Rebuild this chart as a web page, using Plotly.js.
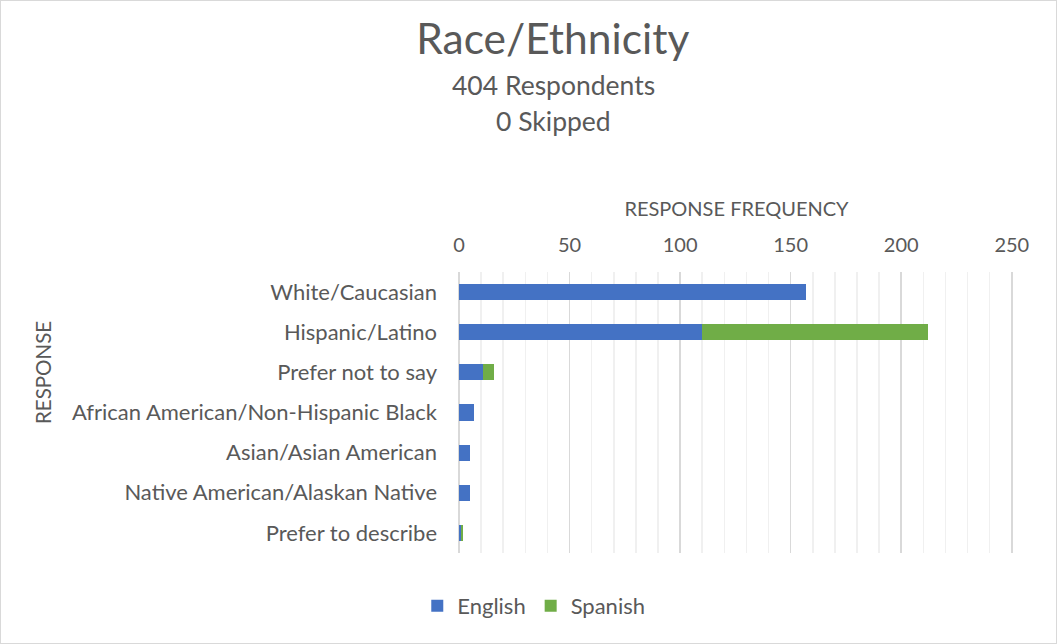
<!DOCTYPE html>
<html>
<head>
<meta charset="utf-8">
<script src="https://cdn.plot.ly/plotly-3.0.1.min.js"></script>
<style>
  html, body { margin: 0; padding: 0; background: #fff; }
  #chart { width: 1057px; height: 644px; box-sizing: border-box; border: 1px solid #d9d9d9; }
</style>
</head>
<body>
<div id="chart"></div>
<script>
// categories, top to bottom
var responses = [
  "White/Caucasian",
  "Hispanic/Latino",
  "Prefer not to say",
  "African American/Non-Hispanic Black",
  "Asian/Asian American",
  "Native American/Alaskan Native",
  "Prefer to describe"
];
var english = [157, 110, 11, 7, 5, 5, 1];
var spanish = [0, 102, 5, 0, 0, 0, 1];

var grey = "#595959";
var font = "Lato, 'Open Sans', sans-serif";

// plot box in pixels
var L = 458, R = 42, T = 271, B = 90;
var PW = 1055 - L - R, PH = 642 - T - B;

var traces = [
  {
    type: "bar",
    orientation: "h",
    name: "English",
    y: responses,
    x: english,
    marker: { color: "#4472c4" }
  },
  {
    type: "bar",
    orientation: "h",
    name: "Spanish",
    y: responses,
    x: spanish,
    marker: { color: "#70ad47" }
  }
];

var layout = {
  width: 1055,
  height: 642,
  barmode: "stack",
  bargap: 0.6,
  paper_bgcolor: "#fff",
  plot_bgcolor: "#fff",
  font: { family: font, color: grey, size: 20 },
  margin: { l: L, r: R, t: T, b: B },
  title: {
    text: "Race/Ethnicity",
    font: { size: 42.5, color: grey, family: font },
    xref: "container",
    x: 0.523,
    xanchor: "center",
    yref: "container",
    y: 1 - 38 / 642,
    yanchor: "middle"
  },
  annotations: [
    {
      text: "404 Respondents",
      xref: "paper", yref: "paper",
      x: (552 - L) / PW, y: 1 + (T - 84) / PH,
      xanchor: "center", yanchor: "middle",
      showarrow: false,
      font: { size: 26.5, color: grey }
    },
    {
      text: "0 Skipped",
      xref: "paper", yref: "paper",
      x: (552 - L) / PW, y: 1 + (T - 120) / PH,
      xanchor: "center", yanchor: "middle",
      showarrow: false,
      font: { size: 26.5, color: grey }
    },
    {
      // y axis title
      text: "RESPONSE",
      textangle: -90,
      xref: "paper", yref: "paper",
      x: (42 - L) / PW, y: 1 - (372 - T) / PH,
      xanchor: "center", yanchor: "middle",
      showarrow: false,
      font: { size: 20.5, color: grey }
    }
  ],
  xaxis: {
    side: "top",
    range: [0, 251],
    dtick: 50,
    showgrid: true,
    gridcolor: "#d9d9d9",
    gridwidth: 1.5,
    zeroline: true,
    zerolinecolor: "#d9d9d9",
    zerolinewidth: 1.5,
    minor: { dtick: 10, showgrid: true, gridcolor: "#f0f0f0", gridwidth: 1.5 },
    ticks: "",
    ticklabelstandoff: 15,
    tickfont: { size: 20, color: grey },
    showline: false,
    fixedrange: true,
    title: {
      text: "RESPONSE FREQUENCY",
      font: { size: 20, color: grey },
      standoff: 10
    }
  },
  yaxis: {
    autorange: "reversed",
    showgrid: false,
    zeroline: false,
    ticks: "",
    ticklabelstandoff: 21,
    tickfont: { size: 22, color: grey },
    fixedrange: true
  },
  showlegend: true,
  legend: {
    orientation: "h",
    xref: "container",
    yref: "container",
    x: 0.505,
    xanchor: "center",
    y: 1 - 605 / 642,
    yanchor: "middle",
    font: { size: 22, color: grey },
    traceorder: "normal"
  }
};

Plotly.newPlot("chart", traces, layout, { displayModeBar: false, staticPlot: true });
</script>
</body>
</html>
